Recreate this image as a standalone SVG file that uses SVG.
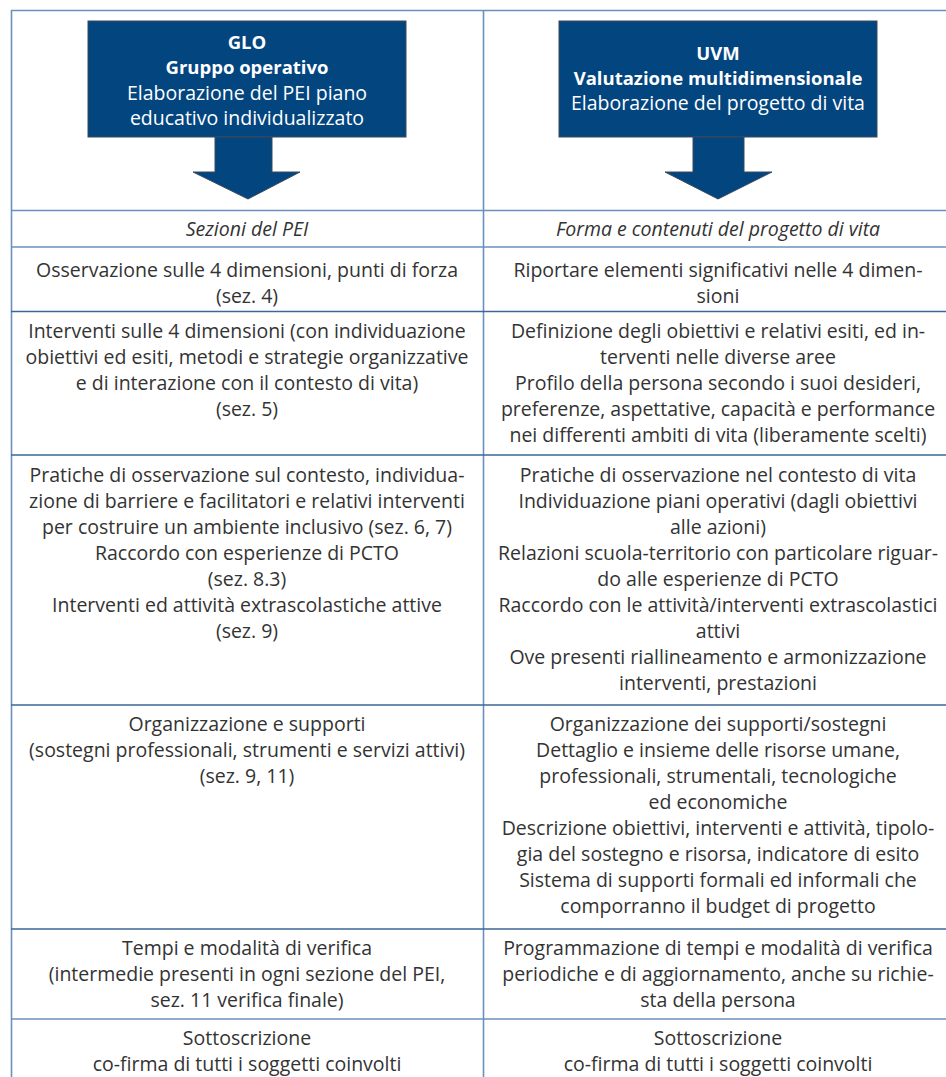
<svg xmlns="http://www.w3.org/2000/svg" width="946" height="1077" viewBox="0 0 946 1077">
  <style>
    .grid { stroke: #6a91bb; stroke-width: 1.6; fill: none; }
    .grid-dark { stroke: #3d6796; stroke-width: 1.6; fill: none; }
    .box { fill: #03457f; stroke: #3a4a5c; stroke-width: 1; }
    .hdr { font-family: "Open Sans", "Noto Sans", sans-serif; font-size: 19.5px; fill: #ffffff; text-anchor: middle; }
    .hdr-b { font-weight: bold; font-size: 18.5px; }
    .cell { font-family: "Open Sans", "Noto Sans", sans-serif; font-size: 19.5px; fill: #333333; text-anchor: middle; }
    .ital { font-style: italic; }
  </style>

  <!-- table rules -->
  <g id="connectors">
    <line class="grid" x1="11.5" y1="10" x2="11.5" y2="1077"/>
    <line class="grid" x1="483.5" y1="10" x2="483.5" y2="1077"/>
    <line class="grid" x1="11" y1="10.5" x2="946" y2="10.5"/>
    <line class="grid" x1="11" y1="210.5" x2="946" y2="210.5"/>
    <line class="grid" x1="11" y1="247" x2="946" y2="247"/>
    <line class="grid-dark" x1="11" y1="311.5" x2="946" y2="311.5"/>
    <line class="grid-dark" x1="11" y1="455" x2="946" y2="455"/>
    <line class="grid-dark" x1="11" y1="705" x2="946" y2="705"/>
    <line class="grid-dark" x1="11" y1="929" x2="946" y2="929"/>
    <line class="grid" x1="11" y1="1019" x2="946" y2="1019"/>
  </g>

  <!-- GLO header block with down arrow -->
  <g id="glo">
    <rect class="box" x="88" y="21" width="318" height="116"/>
    <polygon class="box" points="215,137 272,137 272,172 300,172 248,199 193,172 215,172"/>
    <text class="hdr hdr-b" x="247" y="49">GLO</text>
    <text class="hdr hdr-b" x="247" y="74">Gruppo operativo</text>
    <text class="hdr" x="247" y="100">Elaborazione del PEI piano</text>
    <text class="hdr" x="247" y="125">educativo individualizzato</text>
  </g>

  <!-- UVM header block with down arrow -->
  <g id="uvm">
    <rect class="box" x="559" y="21" width="318" height="116"/>
    <polygon class="box" points="693,137 744,137 744,172 772,172 718,199 665,172 693,172"/>
    <text class="hdr hdr-b" x="718" y="60">UVM</text>
    <text class="hdr hdr-b" x="718" y="85">Valutazione multidimensionale</text>
    <text class="hdr" x="718" y="110">Elaborazione del progetto di vita</text>
  </g>

  <!-- column captions -->
  <g id="caption-left">
    <text class="cell ital" x="247" y="236">Sezioni del PEI</text>
  </g>
  <g id="caption-right">
    <text class="cell ital" x="718" y="236">Forma e contenuti del progetto di vita</text>
  </g>

  <!-- row: observation -->
  <g id="row1-left">
    <text class="cell" x="247" y="277">Osservazione sulle 4 dimensioni, punti di forza</text>
    <text class="cell" x="247" y="303">(sez. 4)</text>
  </g>
  <g id="row1-right">
    <text class="cell" x="718" y="277">Riportare elementi significativi nelle 4 dimen-</text>
    <text class="cell" x="718" y="303">sioni</text>
  </g>

  <!-- row: interventions -->
  <g id="row2-left">
    <text class="cell" x="247" y="338">Interventi sulle 4 dimensioni (con individuazione</text>
    <text class="cell" x="247" y="364">obiettivi ed esiti, metodi e strategie organizzative</text>
    <text class="cell" x="247" y="390">e di interazione con il contesto di vita)</text>
    <text class="cell" x="247" y="416">(sez. 5)</text>
  </g>
  <g id="row2-right">
    <text class="cell" x="718" y="338">Definizione degli obiettivi e relativi esiti, ed in-</text>
    <text class="cell" x="718" y="364">terventi nelle diverse aree</text>
    <text class="cell" x="718" y="390">Profilo della persona secondo i suoi desideri,</text>
    <text class="cell" x="718" y="416">preferenze, aspettative, capacità e performance</text>
    <text class="cell" x="718" y="442">nei differenti ambiti di vita (liberamente scelti)</text>
  </g>

  <!-- row: context -->
  <g id="row3-left">
    <text class="cell" x="247" y="482">Pratiche di osservazione sul contesto, individua-</text>
    <text class="cell" x="247" y="508">zione di barriere e facilitatori e relativi interventi</text>
    <text class="cell" x="247" y="534">per costruire un ambiente inclusivo (sez. 6, 7)</text>
    <text class="cell" x="247" y="560">Raccordo con esperienze di PCTO</text>
    <text class="cell" x="247" y="586">(sez. 8.3)</text>
    <text class="cell" x="247" y="612">Interventi ed attività extrascolastiche attive</text>
    <text class="cell" x="247" y="638">(sez. 9)</text>
  </g>
  <g id="row3-right">
    <text class="cell" x="718" y="482">Pratiche di osservazione nel contesto di vita</text>
    <text class="cell" x="718" y="508">Individuazione piani operativi (dagli obiettivi</text>
    <text class="cell" x="718" y="534">alle azioni)</text>
    <text class="cell" x="718" y="560">Relazioni scuola-territorio con particolare riguar-</text>
    <text class="cell" x="718" y="586">do alle esperienze di PCTO</text>
    <text class="cell" x="718" y="612">Raccordo con le attività/interventi extrascolastici</text>
    <text class="cell" x="718" y="638">attivi</text>
    <text class="cell" x="718" y="664">Ove presenti riallineamento e armonizzazione</text>
    <text class="cell" x="718" y="690">interventi, prestazioni</text>
  </g>

  <!-- row: organisation -->
  <g id="row4-left">
    <text class="cell" x="247" y="731">Organizzazione e supporti</text>
    <text class="cell" x="247" y="757">(sostegni professionali, strumenti e servizi attivi)</text>
    <text class="cell" x="247" y="783">(sez. 9, 11)</text>
  </g>
  <g id="row4-right">
    <text class="cell" x="718" y="731">Organizzazione dei supporti/sostegni</text>
    <text class="cell" x="718" y="757">Dettaglio e insieme delle risorse umane,</text>
    <text class="cell" x="718" y="783">professionali, strumentali, tecnologiche</text>
    <text class="cell" x="718" y="809">ed economiche</text>
    <text class="cell" x="718" y="835">Descrizione obiettivi, interventi e attività, tipolo-</text>
    <text class="cell" x="718" y="861">gia del sostegno e risorsa, indicatore di esito</text>
    <text class="cell" x="718" y="887">Sistema di supporti formali ed informali che</text>
    <text class="cell" x="718" y="913">comporranno il budget di progetto</text>
  </g>

  <!-- row: verification -->
  <g id="row5-left">
    <text class="cell" x="247" y="955">Tempi e modalità di verifica</text>
    <text class="cell" x="247" y="981">(intermedie presenti in ogni sezione del PEI,</text>
    <text class="cell" x="247" y="1007">sez. 11 verifica finale)</text>
  </g>
  <g id="row5-right">
    <text class="cell" x="718" y="955">Programmazione di tempi e modalità di verifica</text>
    <text class="cell" x="718" y="981">periodiche e di aggiornamento, anche su richie-</text>
    <text class="cell" x="718" y="1007">sta della persona</text>
  </g>

  <!-- row: signature -->
  <g id="row6-left">
    <text class="cell" x="247" y="1045">Sottoscrizione</text>
    <text class="cell" x="247" y="1071">co-firma di tutti i soggetti coinvolti</text>
  </g>
  <g id="row6-right">
    <text class="cell" x="718" y="1045">Sottoscrizione</text>
    <text class="cell" x="718" y="1071">co-firma di tutti i soggetti coinvolti</text>
  </g>
</svg>
